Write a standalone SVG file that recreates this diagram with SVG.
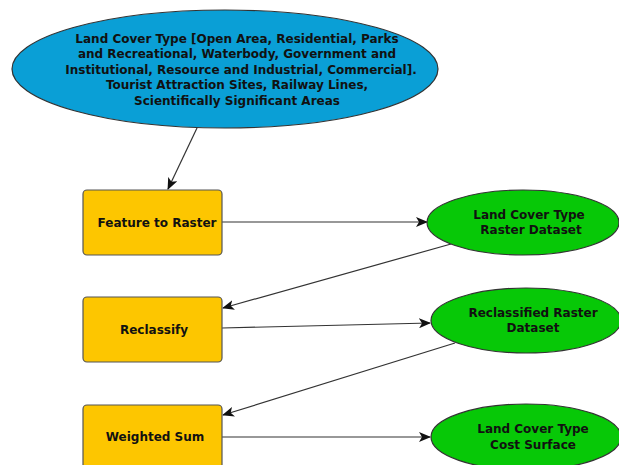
<svg xmlns="http://www.w3.org/2000/svg" width="619" height="465" viewBox="0 0 619 465">
  <style>
    .lbl { font-family: "DejaVu Sans", "Liberation Sans", sans-serif; font-weight: bold; font-size: 12px; fill: #111; text-anchor: middle; dominant-baseline: central; }
    .tool { fill: #fdc600; stroke: #555; stroke-width: 1.2; }
    .input { fill: #0a9fd6; stroke: #333; stroke-width: 1.2; }
    .output { fill: #07c807; stroke: #333; stroke-width: 1.2; }
    .edge { fill: none; stroke: #333; stroke-width: 1.2; marker-end: url(#arrow); }
  </style>
  <defs>
    <marker id="arrow" viewBox="0 0 12 10" refX="11" refY="5" markerWidth="12" markerHeight="10" markerUnits="userSpaceOnUse" orient="auto">
      <path d="M0,0 L12,5 L0,10 L3,5 Z" fill="#111"/>
    </marker>
  </defs>
  <rect width="619" height="465" fill="#fff"/>

  <g id="connectors">
    <line class="edge" x1="197" y1="128" x2="168" y2="189"/>
    <line class="edge" x1="222" y1="222" x2="427" y2="222"/>
    <line class="edge" x1="451" y1="244" x2="223" y2="308"/>
    <line class="edge" x1="222" y1="328" x2="430" y2="323"/>
    <line class="edge" x1="455" y1="343" x2="223" y2="415"/>
    <line class="edge" x1="222" y1="437" x2="430" y2="437"/>
  </g>

  <g id="land-cover-input">
    <ellipse class="input" cx="225" cy="69" rx="213" ry="59"/>
    <text class="lbl" x="237" y="39">Land Cover Type [Open Area, Residential, Parks</text>
    <text class="lbl" x="237" y="54">and Recreational, Waterbody, Government and</text>
    <text class="lbl" x="241" y="69.5">Institutional, Resource and Industrial, Commercial].</text>
    <text class="lbl" x="237" y="85">Tourist Attraction Sites, Railway Lines,</text>
    <text class="lbl" x="237" y="100.5">Scientifically Significant Areas</text>
  </g>

  <g id="feature-to-raster">
    <rect class="tool" x="83" y="190" width="139" height="65" rx="4"/>
    <text class="lbl" x="157" y="223">Feature to Raster</text>
  </g>

  <g id="reclassify">
    <rect class="tool" x="83" y="297" width="139" height="65" rx="4"/>
    <text class="lbl" x="154" y="330">Reclassify</text>
  </g>

  <g id="weighted-sum">
    <rect class="tool" x="83" y="405" width="139" height="65" rx="4"/>
    <text class="lbl" x="155" y="437">Weighted Sum</text>
  </g>

  <g id="land-cover-raster">
    <ellipse class="output" cx="523" cy="222.5" rx="96" ry="32.5"/>
    <text class="lbl" x="529" y="215">Land Cover Type</text>
    <text class="lbl" x="531" y="230">Raster Dataset</text>
  </g>

  <g id="reclassified-raster">
    <ellipse class="output" cx="526" cy="320.5" rx="95" ry="32.5"/>
    <text class="lbl" x="533" y="313">Reclassified Raster</text>
    <text class="lbl" x="533" y="327.5">Dataset</text>
  </g>

  <g id="cost-surface">
    <ellipse class="output" cx="526" cy="437" rx="95" ry="33"/>
    <text class="lbl" x="533" y="429">Land Cover Type</text>
    <text class="lbl" x="533" y="445">Cost Surface</text>
  </g>
</svg>
